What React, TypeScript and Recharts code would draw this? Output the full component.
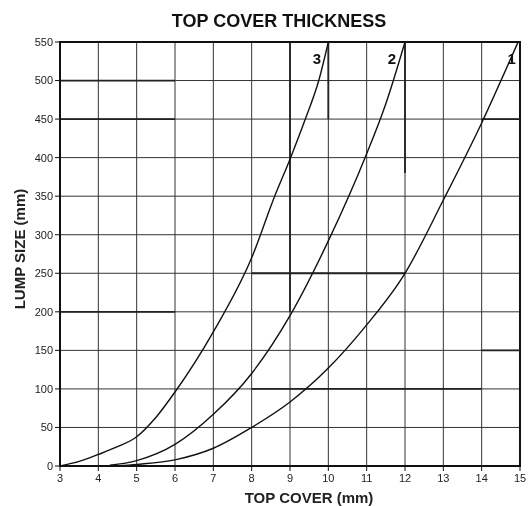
import React from 'react'
import {
  LineChart,
  Line,
  XAxis,
  YAxis,
  CartesianGrid,
  ReferenceLine,
  ReferenceArea,
  ReferenceDot,
} from 'recharts'

// tick labels
const xTicks = [3, 4, 5, 6, 7, 8, 9, 10, 11, 12, 13, 14, 15]
const yTicks = [0, 50, 100, 150, 200, 250, 300, 350, 400, 450, 500, 550]

// curve 3 (thinnest cover)
const curve3 = [
  { x: 3, y: 0 },
  { x: 3.5, y: 6 },
  { x: 4, y: 15 },
  { x: 4.5, y: 25 },
  { x: 5, y: 38 },
  { x: 5.5, y: 63 },
  { x: 6, y: 96 },
  { x: 7, y: 174 },
  { x: 8, y: 270 },
  { x: 8.6, y: 350 },
  { x: 9, y: 398 },
  { x: 9.4, y: 450 },
  { x: 9.75, y: 500 },
  { x: 10, y: 550 },
]

// curve 2
const curve2 = [
  { x: 4.3, y: 1 },
  { x: 5, y: 7 },
  { x: 6, y: 28 },
  { x: 7, y: 67 },
  { x: 8, y: 120 },
  { x: 9, y: 195 },
  { x: 10, y: 292 },
  { x: 11, y: 405 },
  { x: 11.5, y: 470 },
  { x: 12, y: 550 },
]

// curve 1
const curve1 = [
  { x: 4.5, y: 0 },
  { x: 5, y: 2 },
  { x: 6, y: 8 },
  { x: 7, y: 23 },
  { x: 8, y: 50 },
  { x: 9, y: 83 },
  { x: 10, y: 127 },
  { x: 11, y: 183 },
  { x: 12, y: 250 },
  { x: 13, y: 345 },
  { x: 14, y: 445 },
  { x: 14.95, y: 550 },
]

// curve number labels
const curveLabels = [
  { name: '3', x: 9.7, y: 528 },
  { name: '2', x: 11.66, y: 528 },
  { name: '1', x: 14.78, y: 528 },
]

// heavier grid pieces in the printed sheet
const heavySegments = [
  [{ x: 3, y: 500 }, { x: 6, y: 500 }],
  [{ x: 3, y: 450 }, { x: 6, y: 450 }],
  [{ x: 3, y: 200 }, { x: 6, y: 200 }],
  [{ x: 8, y: 250 }, { x: 12, y: 250 }],
  [{ x: 9, y: 550 }, { x: 9, y: 200 }],
  [{ x: 10, y: 550 }, { x: 10, y: 450 }],
  [{ x: 12, y: 550 }, { x: 12, y: 380 }],
  [{ x: 14, y: 450 }, { x: 15, y: 450 }],
  [{ x: 14, y: 150 }, { x: 15, y: 150 }],
  [{ x: 8, y: 100 }, { x: 14, y: 100 }],
]

const font = '"Liberation Sans", Arial, sans-serif'
const tickStyle = { fontSize: 11, fill: '#222', fontFamily: font }

export default function App() {
  return (
    <div style={{ position: 'fixed', top: 0, left: 0, width: 528, height: 506, fontFamily: font }}>
      <div
        style={{
          position: 'absolute',
          top: 12,
          left: 0,
          width: 558,
          textAlign: 'center',
          fontSize: 18,
          lineHeight: '18px',
          fontWeight: 'bold',
          color: '#111',
        }}
      >
        TOP COVER THICKNESS
      </div>
      <div
        style={{
          position: 'absolute',
          left: 20 - 80,
          top: 249 - 8,
          width: 160,
          textAlign: 'center',
          fontSize: 15,
          lineHeight: '16px',
          fontWeight: 'bold',
          color: '#222',
          transform: 'rotate(-90deg)',
        }}
      >
        LUMP SIZE (mm)
      </div>
      <div
        style={{
          position: 'absolute',
          left: 309 - 80,
          top: 490,
          width: 160,
          textAlign: 'center',
          fontSize: 15,
          lineHeight: '15px',
          fontWeight: 'bold',
          color: '#222',
        }}
      >
        TOP COVER (mm)
      </div>
      <LineChart
        width={528}
        height={506}
        margin={{ top: 42, right: 8, bottom: 10, left: 24 }}
      >
        <CartesianGrid stroke="#333" strokeWidth={1} />
        <XAxis
          type="number"
          dataKey="x"
          domain={[3, 15]}
          ticks={xTicks}
          interval={0}
          height={30}
          tick={tickStyle}
          tickSize={5}
          tickMargin={3}
          axisLine={{ stroke: '#111', strokeWidth: 2 }}
          tickLine={{ stroke: '#111' }}
          allowDataOverflow
        />
        <YAxis
          type="number"
          dataKey="y"
          domain={[0, 550]}
          ticks={yTicks}
          interval={0}
          width={36}
          tick={tickStyle}
          tickSize={5}
          tickMargin={2}
          axisLine={{ stroke: '#111', strokeWidth: 2 }}
          tickLine={{ stroke: '#111' }}
          allowDataOverflow
        />
        {heavySegments.map((seg, i) => (
          <ReferenceLine key={i} segment={seg} stroke="#222" strokeWidth={1.8} />
        ))}
        <ReferenceArea
          x1={3}
          x2={15}
          y1={0}
          y2={550}
          fill="none"
          fillOpacity={0}
          stroke="#111"
          strokeWidth={2}
        />
        <Line data={curve3} dataKey="y" type="monotone" stroke="#111" strokeWidth={1.4} dot={false} isAnimationActive={false} />
        <Line data={curve2} dataKey="y" type="monotone" stroke="#111" strokeWidth={1.4} dot={false} isAnimationActive={false} />
        <Line data={curve1} dataKey="y" type="monotone" stroke="#111" strokeWidth={1.4} dot={false} isAnimationActive={false} />
        {curveLabels.map((c) => (
          <ReferenceDot
            key={c.name}
            x={c.x}
            y={c.y}
            r={0}
            stroke="none"
            label={{ value: c.name, position: 'center', fontSize: 15, fontWeight: 'bold', fill: '#111', fontFamily: font }}
          />
        ))}
      </LineChart>
    </div>
  )
}
